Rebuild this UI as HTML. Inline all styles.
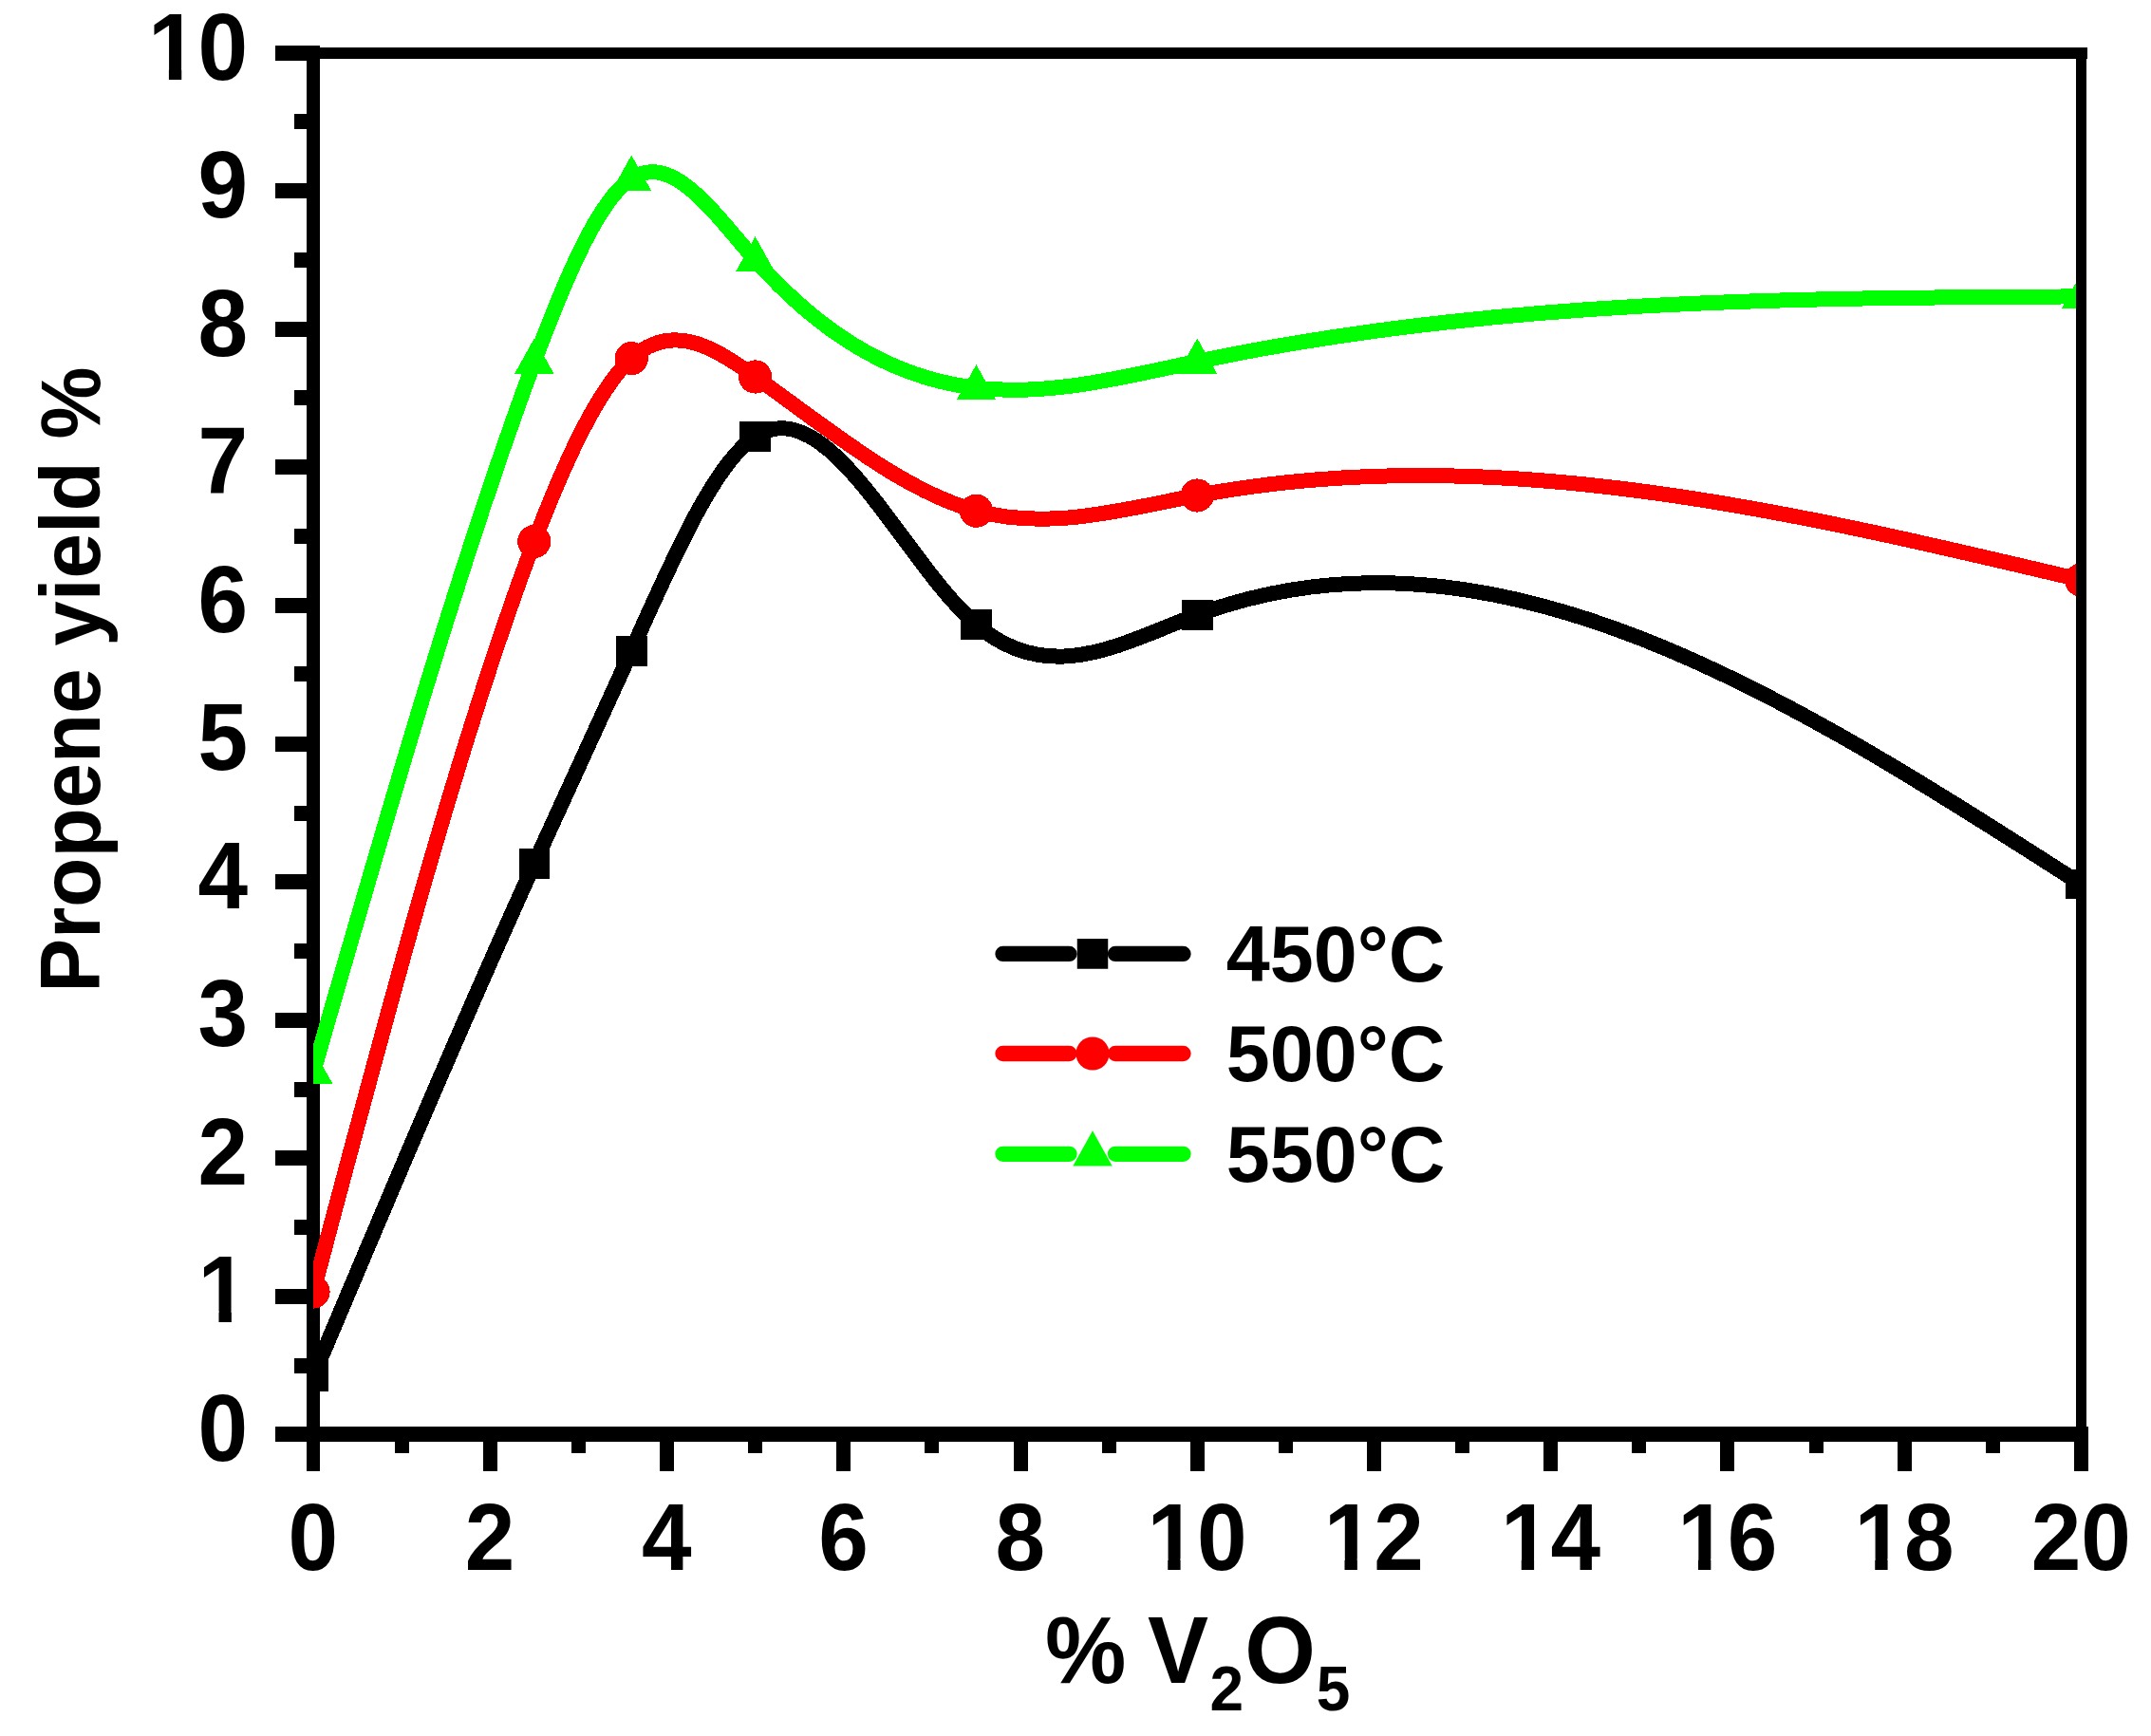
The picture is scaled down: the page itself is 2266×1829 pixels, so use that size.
<!DOCTYPE html>
<html lang="en"><head><meta charset="utf-8"><title>Propene yield vs % V2O5</title>
<style>html,body{margin:0;padding:0;background:#fff;}body{width:2266px;height:1829px;overflow:hidden;}svg{display:block;}text{font-family:"Liberation Sans",sans-serif;font-weight:bold;fill:#000;}</style></head><body>
<svg width="2266" height="1829" viewBox="0 0 2266 1829" shape-rendering="crispEdges">
<rect width="2266" height="1829" fill="#fff"/>
<defs><clipPath id="plot"><rect x="330" y="40" width="1857" height="1480"/></clipPath></defs>
<g fill="#000">
<rect x="323" y="48" width="14" height="1502"/>
<rect x="290" y="1503" width="1910" height="16"/>
<rect x="290" y="1503" width="34" height="16"/>
<rect x="310" y="1431" width="14" height="16"/>
<rect x="290" y="1358" width="34" height="16"/>
<rect x="310" y="1285" width="14" height="16"/>
<rect x="290" y="1212" width="34" height="16"/>
<rect x="310" y="1140" width="14" height="16"/>
<rect x="290" y="1067" width="34" height="16"/>
<rect x="310" y="994" width="14" height="16"/>
<rect x="290" y="921" width="34" height="16"/>
<rect x="310" y="849" width="14" height="16"/>
<rect x="290" y="776" width="34" height="16"/>
<rect x="310" y="702" width="14" height="16"/>
<rect x="290" y="630" width="34" height="16"/>
<rect x="310" y="557" width="14" height="16"/>
<rect x="290" y="484" width="34" height="16"/>
<rect x="310" y="411" width="14" height="16"/>
<rect x="290" y="339" width="34" height="16"/>
<rect x="310" y="266" width="14" height="16"/>
<rect x="290" y="193" width="34" height="16"/>
<rect x="310" y="120" width="14" height="16"/>
<rect x="290" y="48" width="34" height="16"/>
<rect x="416" y="1518" width="15" height="13"/>
<rect x="509" y="1518" width="15" height="32"/>
<rect x="602" y="1518" width="15" height="13"/>
<rect x="695" y="1518" width="15" height="32"/>
<rect x="788" y="1518" width="15" height="13"/>
<rect x="881" y="1518" width="15" height="32"/>
<rect x="974" y="1518" width="15" height="13"/>
<rect x="1068" y="1518" width="15" height="32"/>
<rect x="1161" y="1518" width="15" height="13"/>
<rect x="1254" y="1518" width="15" height="32"/>
<rect x="1347" y="1518" width="15" height="13"/>
<rect x="1440" y="1518" width="15" height="32"/>
<rect x="1533" y="1518" width="15" height="13"/>
<rect x="1626" y="1518" width="15" height="32"/>
<rect x="1719" y="1518" width="15" height="13"/>
<rect x="1812" y="1518" width="15" height="32"/>
<rect x="1906" y="1518" width="15" height="13"/>
<rect x="1999" y="1518" width="15" height="32"/>
<rect x="2092" y="1518" width="15" height="13"/>
<rect x="2185" y="1518" width="15" height="32"/>
</g>
<g clip-path="url(#plot)">
<path d="M330.00 1450.10 C407.60 1265.82 485.21 1081.53 562.81 910.00 C596.96 834.53 631.10 761.52 665.25 685.70 C708.71 589.20 752.17 488.14 795.62 459.90 C873.23 409.47 950.83 591.25 1028.44 658.00 C1106.04 724.75 1183.65 676.47 1261.25 647.80 C1571.67 533.14 1882.08 732.37 2192.50 931.60" fill="none" stroke="#000" stroke-width="16" stroke-linejoin="round"/>
<rect x="313.75" y="1434.25" width="32.50" height="31.70" fill="#000"/>
<rect x="546.56" y="894.15" width="32.50" height="31.70" fill="#000"/>
<rect x="649.00" y="669.85" width="32.50" height="31.70" fill="#000"/>
<rect x="779.38" y="444.05" width="32.50" height="31.70" fill="#000"/>
<rect x="1012.19" y="642.15" width="32.50" height="31.70" fill="#000"/>
<rect x="1245.00" y="631.95" width="32.50" height="31.70" fill="#000"/>
<rect x="2176.25" y="915.75" width="32.50" height="31.70" fill="#000"/>
<path d="M330.00 1361.00 C407.60 1067.65 485.21 774.30 562.81 570.50 C596.96 480.83 631.10 408.49 665.25 377.60 C708.71 338.29 752.17 366.11 795.62 397.00 C873.23 452.16 950.83 517.11 1028.44 538.20 C1106.04 559.29 1183.65 536.53 1261.25 522.00 C1571.67 463.88 1882.08 537.44 2192.50 611.00" fill="none" stroke="#f00" stroke-width="16" stroke-linejoin="round"/>
<circle cx="330.00" cy="1361.00" r="17.60" fill="#f00"/>
<circle cx="562.81" cy="570.50" r="17.60" fill="#f00"/>
<circle cx="665.25" cy="377.60" r="17.60" fill="#f00"/>
<circle cx="795.62" cy="397.00" r="17.60" fill="#f00"/>
<circle cx="1028.44" cy="538.20" r="17.60" fill="#f00"/>
<circle cx="1261.25" cy="522.00" r="17.60" fill="#f00"/>
<circle cx="2192.50" cy="611.00" r="17.60" fill="#f00"/>
<path d="M330.00 1129.80 C407.60 859.46 485.21 589.12 562.81 381.10 C596.96 289.57 631.10 210.11 665.25 188.00 C708.71 159.86 752.17 224.62 795.62 273.80 C873.23 361.63 950.83 399.79 1028.44 408.70 C1106.04 417.61 1183.65 397.26 1261.25 380.90 C1571.67 315.47 1882.08 313.94 2192.50 312.40" fill="none" stroke="#0f0" stroke-width="16" stroke-linejoin="round"/>
<polygon points="330.00,1105.30 350.70,1142.40 309.30,1142.40" fill="#0f0"/>
<polygon points="562.81,356.60 583.51,393.70 542.11,393.70" fill="#0f0"/>
<polygon points="665.25,163.50 685.95,200.60 644.55,200.60" fill="#0f0"/>
<polygon points="795.62,249.30 816.33,286.40 774.92,286.40" fill="#0f0"/>
<polygon points="1028.44,384.20 1049.14,421.30 1007.74,421.30" fill="#0f0"/>
<polygon points="1261.25,356.40 1281.95,393.50 1240.55,393.50" fill="#0f0"/>
<polygon points="2192.50,287.90 2213.20,325.00 2171.80,325.00" fill="#0f0"/>
</g>
<g fill="#000" shape-rendering="auto">
<rect x="337" y="50" width="1862" height="12"/>
<rect x="2187" y="50" width="11" height="1454"/>
</g>
<g font-size="96" shape-rendering="auto">
<text transform="translate(261.2 1538.8) scale(0.985 1.04)" text-anchor="end">0</text>
<text transform="translate(261.2 1393.3) scale(0.985 1.04)" text-anchor="end">1</text>
<text transform="translate(261.2 1247.8) scale(0.985 1.04)" text-anchor="end">2</text>
<text transform="translate(261.2 1102.3) scale(0.985 1.04)" text-anchor="end">3</text>
<text transform="translate(261.2 956.8) scale(0.985 1.04)" text-anchor="end">4</text>
<text transform="translate(261.2 811.3) scale(0.985 1.04)" text-anchor="end">5</text>
<text transform="translate(261.2 665.8) scale(0.985 1.04)" text-anchor="end">6</text>
<text transform="translate(261.2 520.3) scale(0.985 1.04)" text-anchor="end">7</text>
<text transform="translate(261.2 374.8) scale(0.985 1.04)" text-anchor="end">8</text>
<text transform="translate(261.2 229.3) scale(0.985 1.04)" text-anchor="end">9</text>
<text transform="translate(261.2 83.8) scale(0.985 1.04)" text-anchor="end">10</text>
<text transform="translate(329.7 1654) scale(0.985 1.04)" text-anchor="middle">0</text>
<text transform="translate(516.0 1654) scale(0.985 1.04)" text-anchor="middle">2</text>
<text transform="translate(702.2 1654) scale(0.985 1.04)" text-anchor="middle">4</text>
<text transform="translate(888.5 1654) scale(0.985 1.04)" text-anchor="middle">6</text>
<text transform="translate(1074.7 1654) scale(0.985 1.04)" text-anchor="middle">8</text>
<text transform="translate(1261.0 1654) scale(0.985 1.04)" text-anchor="middle">10</text>
<text transform="translate(1447.2 1654) scale(0.985 1.04)" text-anchor="middle">12</text>
<text transform="translate(1633.5 1654) scale(0.985 1.04)" text-anchor="middle">14</text>
<text transform="translate(1819.7 1654) scale(0.985 1.04)" text-anchor="middle">16</text>
<text transform="translate(2006.0 1654) scale(0.985 1.04)" text-anchor="middle">18</text>
<text transform="translate(2192.2 1654) scale(0.985 1.04)" text-anchor="middle">20</text>
</g>
<g fill="#fff" shape-rendering="auto">
<g transform="translate(208.61 1393.30) scale(0.046172 -0.048750)"><rect x="90" y="-20" width="384" height="262"/><rect x="763" y="-20" width="342" height="262"/></g>
<g transform="translate(156.02 83.80) scale(0.046172 -0.048750)"><rect x="90" y="-20" width="384" height="262"/><rect x="763" y="-20" width="342" height="262"/></g>
<g transform="translate(1208.36 1654.00) scale(0.046172 -0.048750)"><rect x="90" y="-20" width="384" height="262"/><rect x="763" y="-20" width="342" height="262"/></g>
<g transform="translate(1394.61 1654.00) scale(0.046172 -0.048750)"><rect x="90" y="-20" width="384" height="262"/><rect x="763" y="-20" width="342" height="262"/></g>
<g transform="translate(1580.86 1654.00) scale(0.046172 -0.048750)"><rect x="90" y="-20" width="384" height="262"/><rect x="763" y="-20" width="342" height="262"/></g>
<g transform="translate(1767.11 1654.00) scale(0.046172 -0.048750)"><rect x="90" y="-20" width="384" height="262"/><rect x="763" y="-20" width="342" height="262"/></g>
<g transform="translate(1953.36 1654.00) scale(0.046172 -0.048750)"><rect x="90" y="-20" width="384" height="262"/><rect x="763" y="-20" width="342" height="262"/></g>
</g>
<text transform="translate(1101 1773) scale(1 1.04)" font-size="96" shape-rendering="auto" xml:space="preserve">% <tspan dx="-4">V</tspan><tspan font-size="64" dy="27.9" dx="1.5">2</tspan><tspan dy="-27.9" dx="1">O</tspan><tspan font-size="64" dy="27.9" dx="1">5</tspan></text>
<text transform="translate(104.5 1045.8) rotate(-90) scale(0.998 1.05)" font-size="85.5" shape-rendering="auto">Propene yield %</text>
<g shape-rendering="auto">
<path d="M1056.5 1004.9 H1126.5 M1175 1004.9 H1246.5" stroke="#000" stroke-width="16.3" stroke-linecap="round" fill="none"/>
<rect x="1134.75" y="989.05" width="32.50" height="31.70" fill="#000"/>
<text x="1291.7" y="1034.4" font-size="82.7">450°C</text>
</g>
<g shape-rendering="auto">
<path d="M1056.5 1110.0 H1126.5 M1175 1110.0 H1246.5" stroke="#f00" stroke-width="16.3" stroke-linecap="round" fill="none"/>
<circle cx="1151.00" cy="1110.00" r="17.60" fill="#f00"/>
<text x="1291.7" y="1139.4" font-size="82.7">500°C</text>
</g>
<g shape-rendering="auto">
<path d="M1056.5 1215.8 H1126.5 M1175 1215.8 H1246.5" stroke="#0f0" stroke-width="16.3" stroke-linecap="round" fill="none"/>
<polygon points="1151.00,1191.30 1171.70,1228.40 1130.30,1228.40" fill="#0f0"/>
<text x="1291.7" y="1245.4" font-size="82.7">550°C</text>
</g>
</svg></body></html>
